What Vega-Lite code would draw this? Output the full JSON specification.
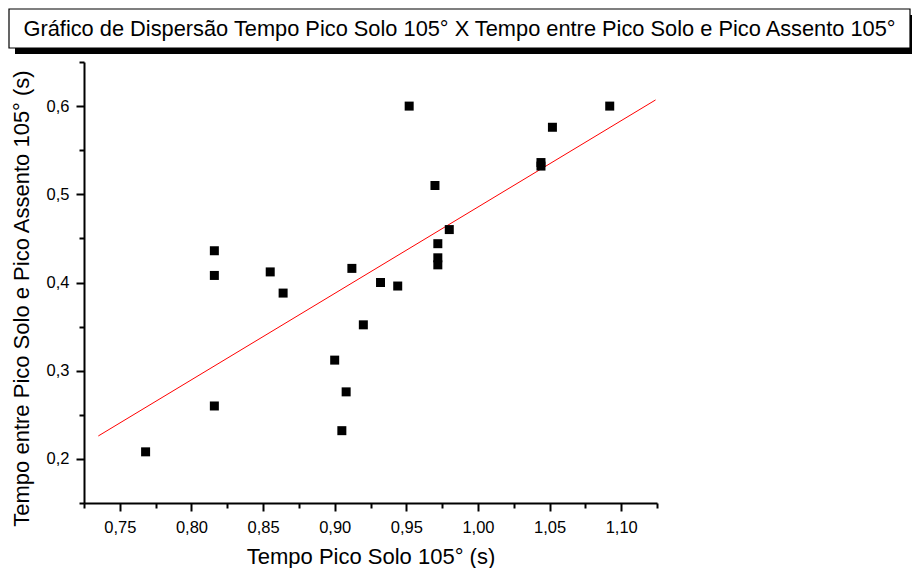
{
  "$schema": "https://vega.github.io/schema/vega-lite/v6.json",
  "padding": {"left": 8, "top": 8, "right": 0, "bottom": 0},
  "spacing": 0,
  "background": "white",
  "config": {"view": {"stroke": null}, "font": "Liberation Sans"},
  "datasets": {
    "pontos": [
      {"x": 0.768, "y": 0.208},
      {"x": 0.816, "y": 0.436},
      {"x": 0.816, "y": 0.408},
      {"x": 0.816, "y": 0.260},
      {"x": 0.855, "y": 0.412},
      {"x": 0.864, "y": 0.388},
      {"x": 0.900, "y": 0.312},
      {"x": 0.905, "y": 0.232},
      {"x": 0.908, "y": 0.276},
      {"x": 0.912, "y": 0.416},
      {"x": 0.920, "y": 0.352},
      {"x": 0.932, "y": 0.400},
      {"x": 0.944, "y": 0.396},
      {"x": 0.952, "y": 0.600},
      {"x": 0.970, "y": 0.510},
      {"x": 0.972, "y": 0.444},
      {"x": 0.972, "y": 0.428},
      {"x": 0.972, "y": 0.420},
      {"x": 0.980, "y": 0.460},
      {"x": 1.044, "y": 0.536},
      {"x": 1.044, "y": 0.532},
      {"x": 1.052, "y": 0.576},
      {"x": 1.092, "y": 0.600}
    ],
    "ajuste": [
      {"x": 0.735, "y": 0.226},
      {"x": 1.124, "y": 0.607}
    ]
  },
  "vconcat": [
    {
      "width": 826,
      "height": 39,
      "data": {"values": [{"t": "Gráfico de Dispersão Tempo Pico Solo 105° X Tempo entre Pico Solo e Pico Assento 105°", "a": 0, "b": 1, "m": 0.5}]},
      "encoding": {
        "x": {"field": "a", "type": "quantitative", "scale": {"domain": [0, 1], "range": [-75, 826], "nice": false, "zero": false}, "axis": null},
        "x2": {"field": "b"},
        "y": {"field": "a", "type": "quantitative", "scale": {"domain": [0, 1], "nice": false, "zero": false}, "axis": null},
        "y2": {"field": "b"}
      },
      "layer": [
        {"mark": {"type": "rect", "fill": "black", "xOffset": 6, "x2Offset": 6, "yOffset": 6, "y2Offset": 6}},
        {"mark": {"type": "rect", "fill": "white", "stroke": "black", "strokeWidth": 1.2}},
        {"mark": {"type": "text", "fontSize": 21.8, "font": "Liberation Sans", "color": "black"}, "encoding": {"x": {"field": "m", "type": "quantitative"}, "x2": null, "y": {"field": "m", "type": "quantitative"}, "y2": null, "text": {"field": "t"}}}
      ]
    },
    {
      "width": 573,
      "height": 441,
      "layer": [
        {
          "data": {"name": "ajuste"},
          "mark": {"type": "line", "color": "#ff0000", "strokeWidth": 1},
          "encoding": {
            "x": {"field": "x", "type": "quantitative"},
            "y": {"field": "y", "type": "quantitative"}
          }
        },
        {
          "data": {"name": "pontos"},
          "mark": {"type": "square", "size": 81, "color": "black", "filled": true, "opacity": 1},
          "encoding": {
            "x": {
              "field": "x", "type": "quantitative",
              "scale": {"domain": [0.725, 1.125], "nice": false, "zero": false},
              "axis": {
                "title": "Tempo Pico Solo 105° (s)",
                "values": [0.725, 0.75, 0.775, 0.8, 0.825, 0.85, 0.875, 0.9, 0.925, 0.95, 0.975, 1.0, 1.025, 1.05, 1.075, 1.1, 1.125],
                "tickCount": 40,
                "labelExpr": "round(datum.value*1000) % 50 == 0 ? replace(format(datum.value, '.2f'), '.', ',') : ''",
                "tickSize": {"condition": {"test": "round(datum.value*1000) % 50 == 0", "value": 8}, "value": 5},
                "grid": false,
                "domainColor": "black", "domainWidth": 2,
                "tickColor": "black", "tickWidth": 2,
                "labelFontSize": 16.5, "labelColor": "black", "labelPadding": 8, "labelOverlap": false, "labelFlush": false,
                "titleFontSize": 22, "titleFontWeight": "normal", "titleColor": "black", "titlePadding": 11
              }
            },
            "y": {
              "field": "y", "type": "quantitative",
              "scale": {"domain": [0.15, 0.65], "nice": false, "zero": false},
              "axis": {
                "title": "Tempo entre Pico Solo e Pico Assento 105° (s)",
                "values": [0.15, 0.2, 0.25, 0.3, 0.35, 0.4, 0.45, 0.5, 0.55, 0.6, 0.65],
                "tickCount": 40,
                "labelExpr": "round(datum.value*100) % 10 == 0 ? replace(format(datum.value, '.1f'), '.', ',') : ''",
                "tickSize": {"condition": {"test": "round(datum.value*100) % 10 == 0", "value": 8}, "value": 5},
                "grid": false,
                "domainColor": "black", "domainWidth": 2,
                "tickColor": "black", "tickWidth": 2,
                "labelFontSize": 16.5, "labelColor": "black", "labelPadding": 7, "labelOverlap": false, "labelFlush": false,
                "titleFontSize": 22, "titleFontWeight": "normal", "titleColor": "black", "titlePadding": 13,
                "titleY": 236
              }
            }
          }
        }
      ]
    }
  ]
}
